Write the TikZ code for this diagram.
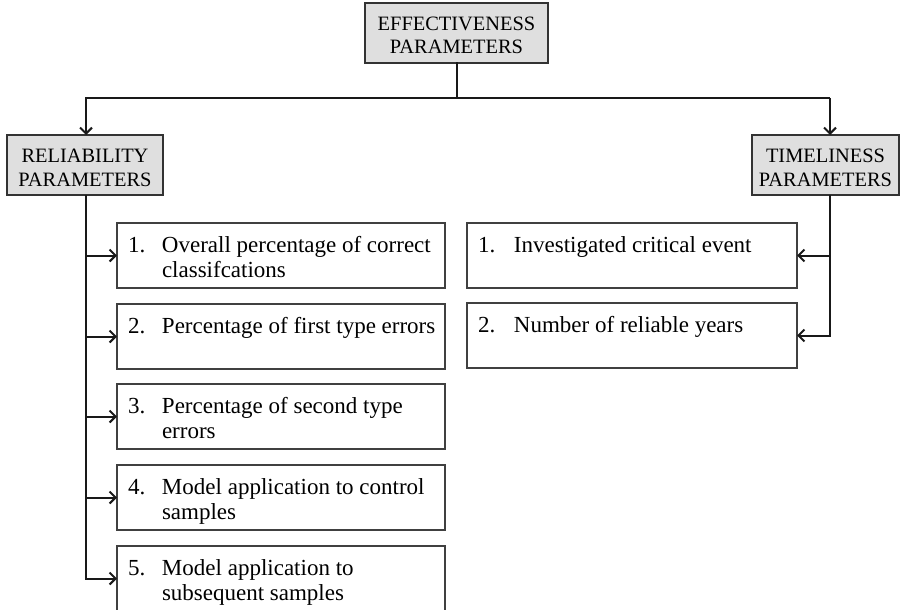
\documentclass[tikz,border=0pt]{standalone}
\usepackage{fontspec}
\setmainfont{Liberation Serif}
\usetikzlibrary{arrows.meta}
\newcommand{\hdrtext}[3]{\parbox[c][60pt][t]{#1}{\centering\fontsize{20.4}{24}\selectfont\rule{0pt}{27pt}#2\\#3}}
\newcommand{\boxtext}[5]{\parbox[c][65pt][t]{#1}{\fontsize{23}{25}\selectfont
\mbox{\rule{0pt}{29pt}\makebox[#2][l]{#3}#4}\par
\mbox{\hspace*{#2}#5}}}
\begin{document}
\begin{tikzpicture}[x=1pt,y=-1pt,
  hdr/.style={draw=black!80, line width=1.6pt, fill=gray!25, inner sep=0pt, outer sep=0pt, anchor=north west},
  itembox/.style={draw=black!75, line width=1.4pt, fill=white, inner xsep=11pt, inner ysep=0pt, outer sep=0pt, anchor=north west},
  conn/.style={line width=2pt, draw=black!90, line cap=rect},
  arr/.style={line width=2pt, draw=black!90, -{Straight Barb[length=6pt,width=12pt,line width=2pt]}}
]
\useasboundingbox (0,0) rectangle (900,610);

\node[hdr] (eff) at (365,3) {\hdrtext{183pt}{EFFECTIVENESS}{PARAMETERS}};
\node[hdr] (rel) at (7,135) {\hdrtext{156pt}{RELIABILITY}{PARAMETERS}};
\node[hdr] (tim) at (752,135) {\hdrtext{147pt}{TIMELINESS}{PARAMETERS}};

\node[itembox] (l1) at (117,223) {\boxtext{306pt}{34pt}{1.}{Overall percentage of correct}{classifcations}};
\node[itembox] (l2) at (117,304) {\boxtext{306pt}{34pt}{2.}{Percentage of first type errors}{}};
\node[itembox] (l3) at (117,384) {\boxtext{306pt}{34pt}{3.}{Percentage of second type}{errors}};
\node[itembox] (l4) at (117,465) {\boxtext{306pt}{34pt}{4.}{Model application to control}{samples}};
\node[itembox] (l5) at (117,546) {\boxtext{306pt}{34pt}{5.}{Model application to}{subsequent samples}};

\node[itembox] (r1) at (467,223) {\boxtext{308pt}{36pt}{1.}{Investigated critical event}{}};
\node[itembox] (r2) at (467,303) {\boxtext{308pt}{36pt}{2.}{Number of reliable years}{}};

\coordinate (jl) at (86,98);
\coordinate (jr) at (830,98);
\draw[conn] (eff.south) -- (eff.south |- jl);
\draw[arr] (jr) -- (jl) -- (jl |- rel.north);
\draw[arr] (jr) -- (jr |- tim.north);

\draw[arr] (jl |- rel.south) |- (l5.west);
\draw[arr] (jl |- l1.west) -- (l1.west);
\draw[arr] (jl |- l2.west) -- (l2.west);
\draw[arr] (jl |- l3.west) -- (l3.west);
\draw[arr] (jl |- l4.west) -- (l4.west);

\draw[arr] (jr |- tim.south) |- (r2.east);
\draw[arr] (jr |- r1.east) -- (r1.east);
\end{tikzpicture}
\end{document}
